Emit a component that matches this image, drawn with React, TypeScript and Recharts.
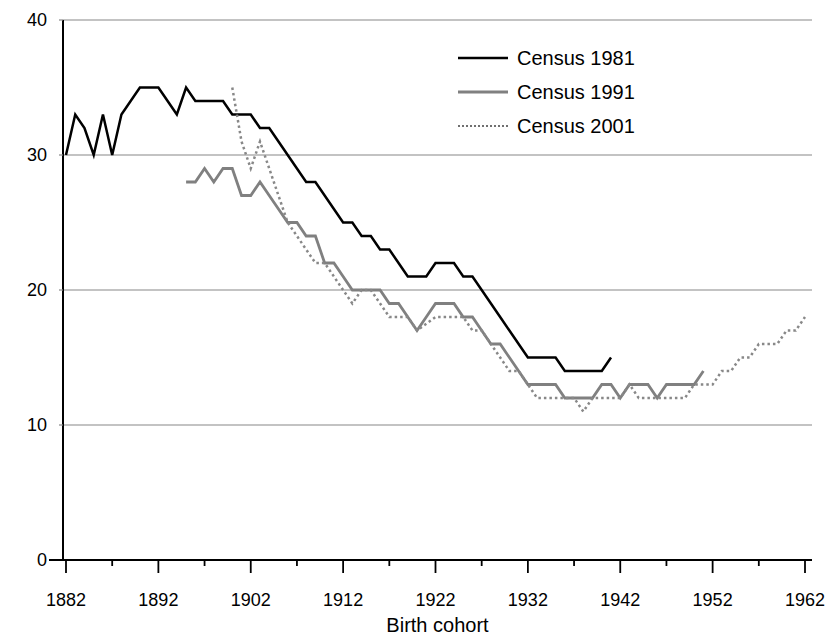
import { LineChart, Line, XAxis, YAxis, CartesianGrid, Legend } from 'recharts'

const years = [
  1882, 1883, 1884, 1885, 1886, 1887, 1888, 1889, 1890, 1891,
  1892, 1893, 1894, 1895, 1896, 1897, 1898, 1899, 1900, 1901,
  1902, 1903, 1904, 1905, 1906, 1907, 1908, 1909, 1910, 1911,
  1912, 1913, 1914, 1915, 1916, 1917, 1918, 1919, 1920, 1921,
  1922, 1923, 1924, 1925, 1926, 1927, 1928, 1929, 1930, 1931,
  1932, 1933, 1934, 1935, 1936, 1937, 1938, 1939, 1940, 1941,
  1942, 1943, 1944, 1945, 1946, 1947, 1948, 1949, 1950, 1951,
  1952, 1953, 1954, 1955, 1956, 1957, 1958, 1959, 1960, 1961,
  1962,
]

// each census series starts at its own cohort year
const census1981Start = 1882
const census1981 = [
  30, 33, 32, 30, 33, 30, 33, 34, 35, 35,
  35, 34, 33, 35, 34, 34, 34, 34, 33, 33,
  33, 32, 32, 31, 30, 29, 28, 28, 27, 26,
  25, 25, 24, 24, 23, 23, 22, 21, 21, 21,
  22, 22, 22, 21, 21, 20, 19, 18, 17, 16,
  15, 15, 15, 15, 14, 14, 14, 14, 14, 15,
]

const census1991Start = 1895
const census1991 = [
  28, 28, 29, 28, 29, 29, 27, 27, 28, 27,
  26, 25, 25, 24, 24, 22, 22, 21, 20, 20,
  20, 20, 19, 19, 18, 17, 18, 19, 19, 19,
  18, 18, 17, 16, 16, 15, 14, 13, 13, 13,
  13, 12, 12, 12, 12, 13, 13, 12, 13, 13,
  13, 12, 13, 13, 13, 13, 14,
]

const census2001Start = 1900
const census2001 = [
  35, 31, 29, 31, 29, 27, 25, 24, 23, 22,
  22, 21, 20, 19, 20, 20, 19, 18, 18, 18,
  17, 17.5, 18, 18, 18, 18, 17, 17, 16, 15,
  14, 14, 13, 12, 12, 12, 12, 12, 11, 12,
  12, 12, 12, 13, 12, 12, 12, 12, 12, 12,
  13, 13, 13, 14, 14, 15, 15, 16, 16, 16,
  17, 17, 18,
]

const xTicks = [1882, 1887, 1892, 1897, 1902, 1907, 1912, 1917, 1922, 1927, 1932, 1937, 1942, 1947, 1952, 1957, 1962]
const majorTicks = [1882, 1892, 1902, 1912, 1922, 1932, 1942, 1952, 1962]
const yTicks = [0, 10, 20, 30, 40]

const pick = (arr: number[], start: number, year: number) => {
  const v = arr[year - start]
  return v === undefined ? null : v
}

const data = years.map((year) => ({
  year,
  c1981: pick(census1981, census1981Start, year),
  c1991: pick(census1991, census1991Start, year),
  c2001: pick(census2001, census2001Start, year),
}))

const FONT = "'Liberation Sans', Arial, Helvetica, sans-serif"
const TICK_SIZE = 12
const TICK_MARGIN = 2
const Y_TICK_SIZE = 4
const Y_TICK_MARGIN = 12

function CohortTick(props: any) {
  const { x, y, payload } = props
  const axisY = y - TICK_SIZE - TICK_MARGIN
  const major = majorTicks.includes(payload.value)
  return (
    <g>
      <line x1={x} x2={x} y1={axisY} y2={axisY + (major ? 13 : 6)} stroke="#000" strokeWidth={1.8} />
      {major && (
        <text x={x} y={axisY + 46} textAnchor="middle" fontSize={18} fill="#000" fontFamily={FONT}>
          {payload.value}
        </text>
      )}
    </g>
  )
}

function ValueTick(props: any) {
  const { x, y, payload } = props
  const axisX = x + Y_TICK_SIZE + Y_TICK_MARGIN
  const isZero = payload.value === 0
  return (
    <g>
      <line
        x1={axisX - (isZero ? 14 : Y_TICK_SIZE)}
        x2={axisX}
        y1={y}
        y2={y}
        stroke={isZero ? '#000' : '#888'}
        strokeWidth={isZero ? 2 : 1.2}
      />
      <text x={x} y={y} dy="0.36em" textAnchor="end" fontSize={18} fill="#000" fontFamily={FONT}>
        {payload.value}
      </text>
    </g>
  )
}

const legendItems = [
  { label: 'Census 1981', stroke: '#000', width: 2.5, dash: undefined },
  { label: 'Census 1991', stroke: '#808080', width: 2.8, dash: undefined },
  { label: 'Census 2001', stroke: '#707070', width: 2, dash: '2 2' },
]

function CensusLegend() {
  return (
    <div style={{ fontFamily: FONT, fontSize: 20, color: '#000' }}>
      {legendItems.map((item) => (
        <div key={item.label} style={{ height: 34, display: 'flex', alignItems: 'center' }}>
          <svg width={52} height={10} style={{ marginRight: 9 }}>
            <line x1={2} x2={52} y1={5} y2={5} stroke={item.stroke} strokeWidth={item.width} strokeDasharray={item.dash} />
          </svg>
          <span>{item.label}</span>
        </div>
      ))}
    </div>
  )
}

export default function App() {
  return (
    <div style={{ position: 'absolute', left: 0, top: 0, width: 830, height: 639, background: '#fff' }}>
      <LineChart width={830} height={639} data={data} margin={{ top: 20, right: 18, left: 0, bottom: 0 }}>
        <CartesianGrid vertical={false} stroke="#888" strokeWidth={1.2} />
        <XAxis
          dataKey="year"
          type="number"
          domain={[1882, 1962]}
          ticks={xTicks}
          interval={0}
          padding={{ left: 3, right: 7 }}
          height={79}
          tickSize={TICK_SIZE}
          tickMargin={TICK_MARGIN}
          tickLine={false}
          tick={<CohortTick />}
          axisLine={{ stroke: '#000', strokeWidth: 2 }}
          label={{ value: 'Birth cohort', position: 'insideBottom', offset: 7, fill: '#000', fontSize: 20, fontFamily: FONT }}
        />
        <YAxis
          domain={[0, 40]}
          ticks={yTicks}
          width={63}
          tickSize={Y_TICK_SIZE}
          tickMargin={Y_TICK_MARGIN}
          tickLine={false}
          axisLine={{ stroke: '#000', strokeWidth: 2 }}
          tick={<ValueTick />}
        />
        <Legend
          layout="vertical"
          align="center"
          verticalAlign="middle"
          content={<CensusLegend />}
          wrapperStyle={{ position: 'absolute', top: 41, left: 456, width: 240 }}
        />
        <Line
          dataKey="c1981"
          name="Census 1981"
          type="linear"
          stroke="#000"
          strokeWidth={2.5}
          dot={false}
          isAnimationActive={false}
        />
        <Line
          dataKey="c1991"
          name="Census 1991"
          type="linear"
          stroke="#808080"
          strokeWidth={2.8}
          dot={false}
          isAnimationActive={false}
        />
        <Line
          dataKey="c2001"
          name="Census 2001"
          type="linear"
          stroke="#888"
          strokeWidth={2.5}
          strokeDasharray="2.5 3"
          dot={false}
          isAnimationActive={false}
        />
      </LineChart>
    </div>
  )
}
